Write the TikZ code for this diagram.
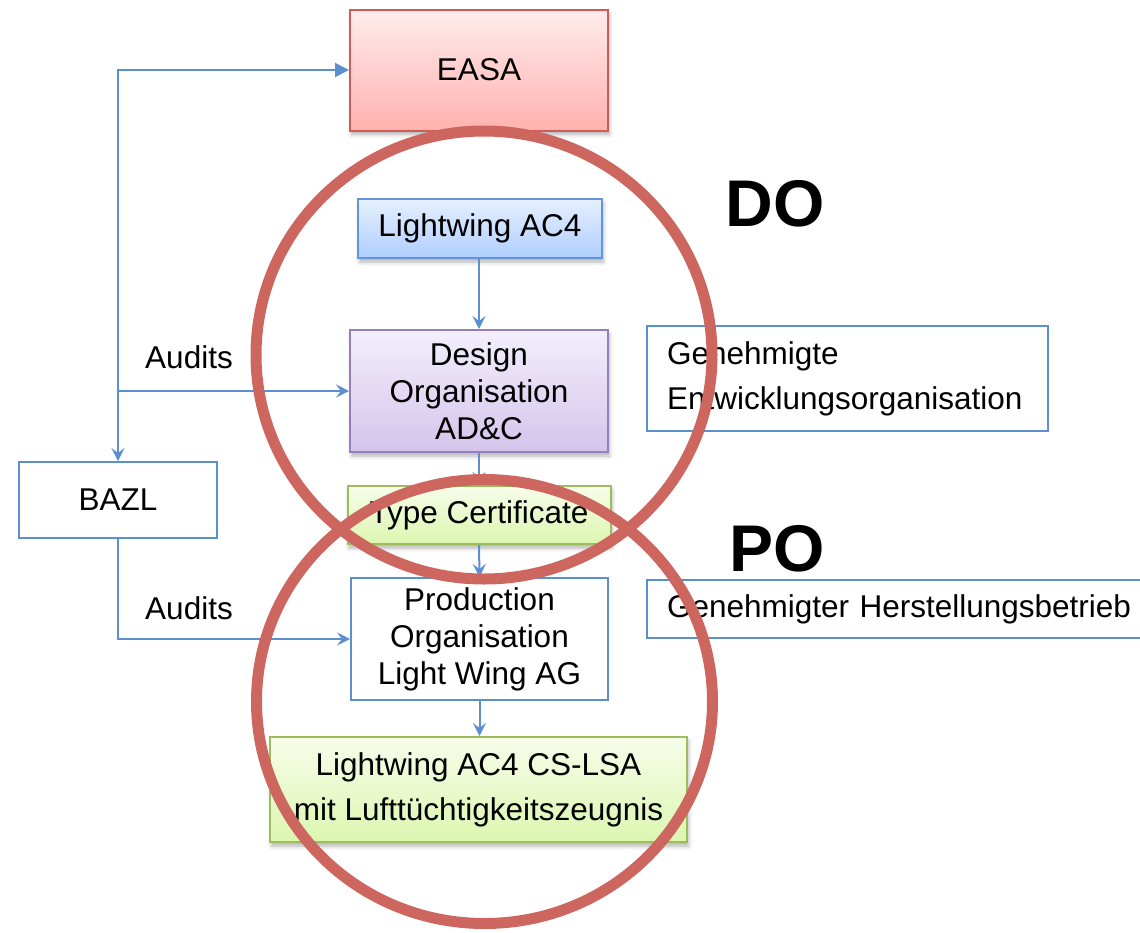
\documentclass[tikz,border=0pt]{standalone}
\usepackage{fontspec}
\setmainfont{Liberation Sans}
\usetikzlibrary{arrows.meta,shadows.blur}
\definecolor{lineblue}{RGB}{91,143,207}
\definecolor{circred}{RGB}{205,102,95}
\definecolor{easaborder}{RGB}{208,92,88}
\definecolor{easatop}{RGB}{255,236,236}
\definecolor{easabot}{RGB}{255,178,175}
\definecolor{lwborder}{RGB}{100,150,215}
\definecolor{lwtop}{RGB}{230,240,255}
\definecolor{lwbot}{RGB}{176,206,255}
\definecolor{doborder}{RGB}{150,125,190}
\definecolor{dotop}{RGB}{243,239,251}
\definecolor{dobot}{RGB}{212,196,236}
\definecolor{grborder}{RGB}{155,190,90}
\definecolor{grtop}{RGB}{247,253,234}
\definecolor{grbot}{RGB}{220,246,176}
\tikzset{
  basebox/.style={draw, line width=2pt, inner sep=0pt, align=center,
    font=\fontsize{31.5}{37}\selectfont},
  shd/.style={blur shadow={shadow xshift=1.5pt, shadow yshift=-4pt,
    shadow blur radius=4pt, shadow opacity=30}},
  plainbox/.style={basebox, draw=lineblue, fill=white},
  easabox/.style={basebox, shd, draw=easaborder, top color=easatop, bottom color=easabot},
  lwbox/.style={basebox, shd, draw=lwborder, top color=lwtop, bottom color=lwbot},
  dobox/.style={basebox, shd, draw=doborder, top color=dotop, bottom color=dobot},
  grbox/.style={basebox, shd, draw=grborder, top color=grtop, bottom color=grbot},
  conn/.style={draw=lineblue, line width=2pt, -{Stealth[length=13pt,width=13pt,inset=5pt]}},
  conntri/.style={draw=lineblue, line width=2pt, -{Triangle[length=14pt,width=14pt]}},
  ring/.style={draw=circred, line width=11pt},
  lbl/.style={inner sep=0pt, font=\fontsize{31.5}{37}\selectfont},
  big/.style={inner sep=0pt, font=\bfseries\fontsize{66}{66}\selectfont}
}
\begin{document}
\begin{tikzpicture}[x=1pt,y=-1pt]
\useasboundingbox (0,0) rectangle (1140,932);
% boxes
\node[easabox, minimum width=258pt, minimum height=121pt] (easa) at (479,70) {EASA};
\node[lwbox, minimum width=244pt, minimum height=59pt] (lw) at (480,228.5) {Lightwing AC4};
\node[dobox, minimum width=258pt, minimum height=122pt] (design) at (479,391) {Design\\Organisation\\AD\&C};
\node[grbox, minimum width=263pt, minimum height=58pt] (tc) at (479,515) {Type Certificate};
\node[plainbox, minimum width=257pt, minimum height=122pt] (prod) at (479.5,639) {Production\\Organisation\\Light Wing AG};
\node[grbox, minimum width=417pt, minimum height=105pt, font=\fontsize{31.5}{45}\selectfont] (final) at (478.5,789.5) {Lightwing AC4 CS-LSA\\mit Lufttüchtigkeitszeugnis};
\node[plainbox, minimum width=198pt, minimum height=76pt] (bazl) at (118,500) {BAZL};
\node[plainbox, minimum width=401pt, minimum height=105pt, text width=361pt, align=left, font=\fontsize{31.5}{45}\selectfont] (ge) at (847.5,378.5) {Genehmigte\\Entwicklungsorganisation};
\node[plainbox, minimum width=510pt, minimum height=58pt, text width=470pt, align=left] (gh) at (902,609) {Genehmigter Herstellungsbetrieb};
% labels
\node[lbl] (aud1) at (189,357) {Audits};
\node[lbl] (aud2) at (189,608) {Audits};
\node[big] (do) at (775,204) {DO};
\node[big] (po) at (777,549) {PO};
% connectors
\coordinate (j1) at (118,391);
\draw[conntri] (j1) |- (easa.west);
\draw[conn] (j1) -- (bazl.north);
\draw[conn] (j1) -- (design.west);
\draw[conn] (bazl.south) |- (prod.west);
\draw[conn] (lw.south -| design.north) -- (design.north);
\draw[conn] (design.south) -- (design.south |- tc.north);
\draw[conn] (design.south |- tc.south) -- (prod.north);
\draw[conn] (prod.south) -- (prod.south |- final.north);
% rings
\draw[ring] (484,355) ellipse [x radius=228pt, y radius=224pt];
\draw[ring] (484.5,701.5) ellipse [x radius=228pt, y radius=222pt];
\end{tikzpicture}
\end{document}
